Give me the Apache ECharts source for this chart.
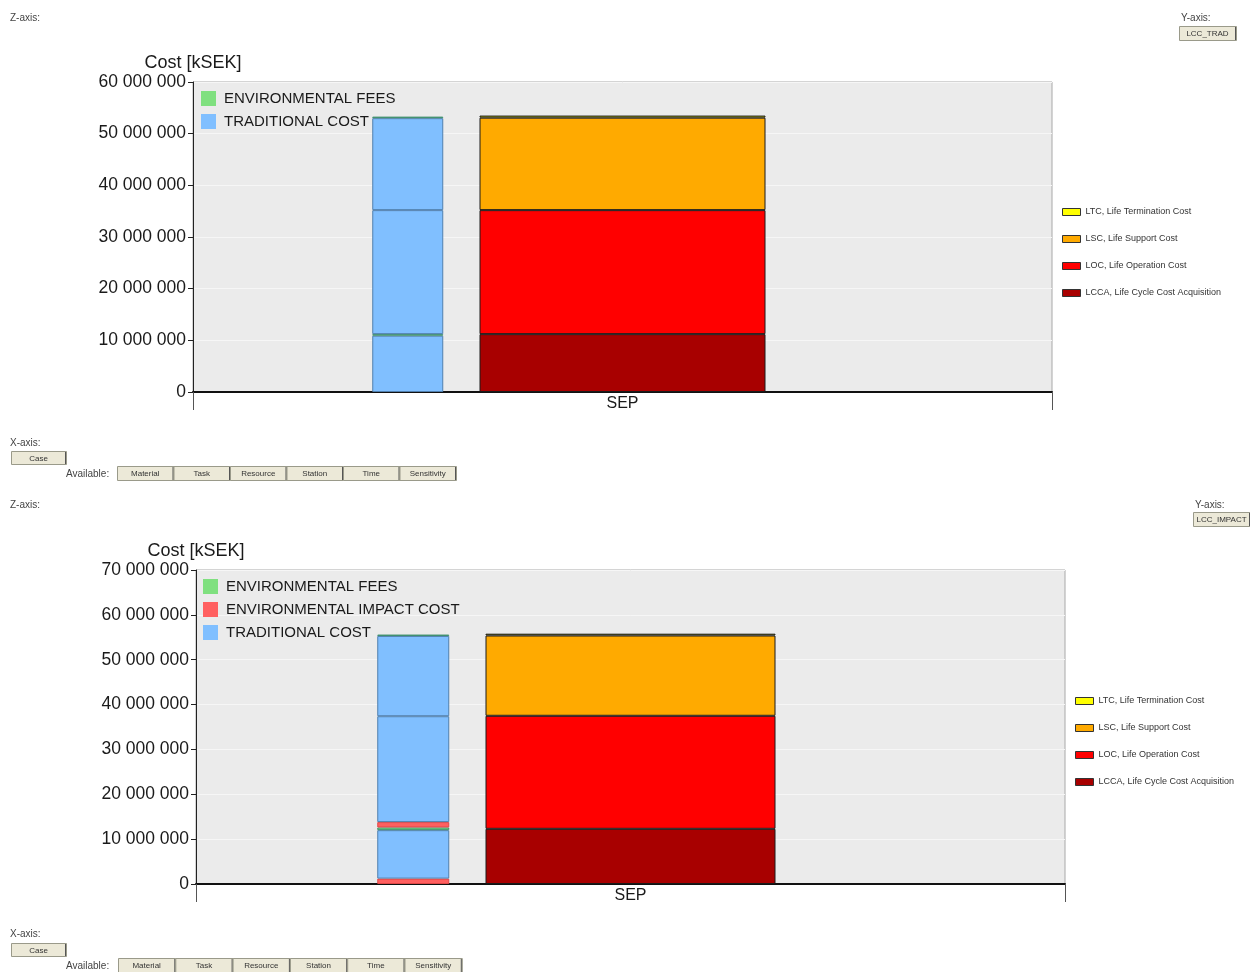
<!DOCTYPE html>
<html>
<head>
<meta charset="utf-8">
<script src="https://cdn.jsdelivr.net/npm/echarts@6/dist/echarts.min.js"></script>
<style>html,body{margin:0;padding:0;background:#fff;}#c{width:1250px;height:972px;}</style>
</head>
<body>
<div id="c"></div>
<script>
// ---------------- DATA ----------------
const categories = ['SEP'];
const yAxisName = 'Cost [kSEK]';
const topYMax = 60000000;
const bottomYMax = 70000000;
const yInterval = 10000000;

// Right bar phases (stack order bottom -> top)
const phaseNames = ['LCCA, Life Cycle Cost Acquisition', 'LOC, Life Operation Cost', 'LSC, Life Support Cost', 'LTC, Life Termination Cost'];
const phaseLegendOrder = ['LTC, Life Termination Cost', 'LSC, Life Support Cost', 'LOC, Life Operation Cost', 'LCCA, Life Cycle Cost Acquisition'];
const phaseValuesTop = [11200000, 24000000, 17900000, 400000];      // LCC_TRAD
const phaseValuesBottom = [12300000, 25200000, 17900000, 400000];   // LCC_IMPACT

// Left bar cost types
const costTypeNames = { fees: 'ENVIRONMENTAL FEES', impact: 'ENVIRONMENTAL IMPACT COST', trad: 'TRADITIONAL COST' };
const leftLegendTop = ['ENVIRONMENTAL FEES', 'TRADITIONAL COST'];
const leftLegendBottom = ['ENVIRONMENTAL FEES', 'ENVIRONMENTAL IMPACT COST', 'TRADITIONAL COST'];
const leftSegTypesTop = ['trad', 'fees', 'trad', 'trad', 'fees'];
const leftSegValuesTop = [10900000, 300000, 24000000, 17800000, 300000];
const leftSegTypesBottom = ['impact', 'trad', 'fees', 'impact', 'trad', 'trad', 'fees'];
const leftSegValuesBottom = [1200000, 10800000, 600000, 1200000, 23600000, 17900000, 300000];

// UI texts
const availableButtons = ['Material', 'Task', 'Resource', 'Station', 'Time', 'Sensitivity'];
const yAxisButtonTop = 'LCC_TRAD';
const yAxisButtonBottom = 'LCC_IMPACT';

// ---------------- STYLES ----------------
const FONT = 'Liberation Sans, Arial, sans-serif';
const phaseColors = ['#a80000', '#ff0000', '#ffaa00', '#ffff00'];
const typeStyle = {
  trad:   { color: '#80bfff', borderColor: '#4f7fae' },
  fees:   { color: '#7fe07f', borderColor: '#3f8f6f' },
  impact: { color: '#ff6060', borderColor: '#e04848' }
};

function fmt(v) { return String(v).replace(/\B(?=(\d{3})+(?!\d))/g, ' '); }

const grids = [
  { left: 193, top: 82, width: 859, height: 310 },
  { left: 196, top: 570, width: 869, height: 314 }
];

function makeYAxis(gridIndex, max) {
  return {
    type: 'value', gridIndex: gridIndex, min: 0, max: max, interval: yInterval,
    name: yAxisName, nameLocation: 'end', nameGap: 10,
    nameTextStyle: { fontSize: 18, color: '#1a1a1a', fontFamily: FONT, align: 'center', verticalAlign: 'bottom' },
    axisLine: { show: true, lineStyle: { color: '#222', width: 1 } },
    axisTick: { show: true, length: 5, lineStyle: { color: '#222' } },
    axisLabel: { formatter: fmt, fontSize: 17.5, color: '#1a1a1a', fontFamily: FONT, margin: 7 },
    splitLine: { show: true, lineStyle: { color: '#f6f6f6', width: 1 } }
  };
}
function makeXAxis(gridIndex) {
  return {
    type: 'category', gridIndex: gridIndex, data: categories,
    axisLine: { show: true, lineStyle: { color: '#111', width: 2 } },
    axisTick: { show: true, length: 18, lineStyle: { color: '#555', width: 1 } },
    axisLabel: { fontSize: 16, color: '#1a1a1a', fontFamily: FONT, margin: 4 },
    splitLine: { show: false }
  };
}
function makeHiddenX(gridIndex) {
  return { type: 'category', gridIndex: gridIndex, data: ['a', 'b'], show: false };
}

const series = [];
function addRight(values, xIdx, yIdx, stack, width) {
  values.forEach(function (v, i) {
    series.push({
      type: 'bar', name: phaseNames[i], stack: stack, xAxisIndex: xIdx, yAxisIndex: yIdx,
      barWidth: width, data: [v],
      itemStyle: { color: phaseColors[i], borderColor: '#1a1a1a', borderWidth: 1 }
    });
  });
}
function addLeft(types, values, xIdx, yIdx, stack, width) {
  types.forEach(function (t, i) {
    series.push({
      type: 'bar', name: costTypeNames[t], stack: stack, xAxisIndex: xIdx, yAxisIndex: yIdx,
      barWidth: width, data: [values[i], '-'],
      itemStyle: { color: typeStyle[t].color, borderColor: typeStyle[t].borderColor, borderWidth: 1 }
    });
  });
}
addRight(phaseValuesTop, 0, 0, 'rt', 286);
addLeft(leftSegTypesTop, leftSegValuesTop, 1, 0, 'lt', 71);
addRight(phaseValuesBottom, 2, 1, 'rb', 290);
addLeft(leftSegTypesBottom, leftSegValuesBottom, 3, 1, 'lb', 72);

function leftLegend(data, top, left) {
  return {
    data: data, orient: 'vertical', left: left, top: top, itemWidth: 15, itemHeight: 15, itemGap: 8,
    icon: 'rect', itemStyle: { borderWidth: 0 },
    textStyle: { fontSize: 15, color: '#1a1a1a', fontFamily: FONT, padding: [0, 0, 0, 3] },
    selectedMode: false
  };
}
function rightLegend(top, left) {
  return {
    data: phaseLegendOrder, orient: 'vertical', left: left, top: top, itemWidth: 18, itemHeight: 7, itemGap: 17,
    icon: 'rect', itemStyle: { borderColor: '#333', borderWidth: 1 },
    textStyle: { fontSize: 9, color: '#333', fontFamily: FONT, lineHeight: 10 },
    selectedMode: false
  };
}

// ---------- UI graphic elements ----------
const graphic = [];
function label(text, x, y, size) {
  graphic.push({ type: 'text', style: { text: text, x: x, y: y, fontSize: size || 10, fontFamily: FONT, fill: '#444', verticalAlign: 'middle' } });
}
function button(text, x, y, w, h) {
  graphic.push({ type: 'rect', shape: { x: x + 0.5, y: y + 0.5, width: w, height: h }, style: { fill: '#ece9d8', stroke: '#9a9a8a', lineWidth: 1 } });
  graphic.push({ type: 'line', shape: { x1: x + w - 0.5, y1: y + 1, x2: x + w - 0.5, y2: y + h }, style: { stroke: '#555', lineWidth: 1 } });
  graphic.push({ type: 'text', style: { text: text, x: x + w / 2, y: y + h / 2 + 1, align: 'center', verticalAlign: 'middle', fontSize: 8, fontFamily: FONT, fill: '#333' } });
}
function uiBlock(zy, yBtnLabelX, yBtnLabelY, yBtnText, yBtnX, yBtnY, xLabelY, caseY, caseH, availY, btnX0, btnW, btnH) {
  label('Z-axis:', 10, zy, 10);
  label('Y-axis:', yBtnLabelX, yBtnLabelY, 10);
  button(yBtnText, yBtnX, yBtnY, 57, 14);
  label('X-axis:', 10, xLabelY, 10);
  button('Case', 11, caseY, 55, caseH);
  label('Available:', 66, availY, 10);
  availableButtons.forEach(function (b, i) { button(b, btnX0 + i * btnW, availY - 8, btnW, btnH); });
}
uiBlock(18, 1181, 18, yAxisButtonTop, 1179, 26, 443, 451, 13, 474, 117, 56.5, 14);
uiBlock(505, 1195, 505, yAxisButtonBottom, 1193, 512, 934, 943, 13, 966, 118, 57.3, 14);

const chart = echarts.init(document.getElementById('c'), null, { renderer: 'canvas' });
chart.setOption({
  animation: false,
  backgroundColor: '#ffffff',
  textStyle: { fontFamily: FONT },
  grid: grids.map(function (g) { return Object.assign({ show: true, backgroundColor: '#ebebeb', borderColor: '#a8a8a8', borderWidth: 1, containLabel: false }, g); }),
  xAxis: [makeXAxis(0), makeHiddenX(0), makeXAxis(1), makeHiddenX(1)],
  yAxis: [makeYAxis(0, topYMax), makeYAxis(1, bottomYMax)],
  legend: [leftLegend(leftLegendTop, 86, 196), rightLegend(202, 1057), leftLegend(leftLegendBottom, 574, 198), rightLegend(691, 1070)],
  graphic: graphic,
  series: series
});
</script>
</body>
</html>
